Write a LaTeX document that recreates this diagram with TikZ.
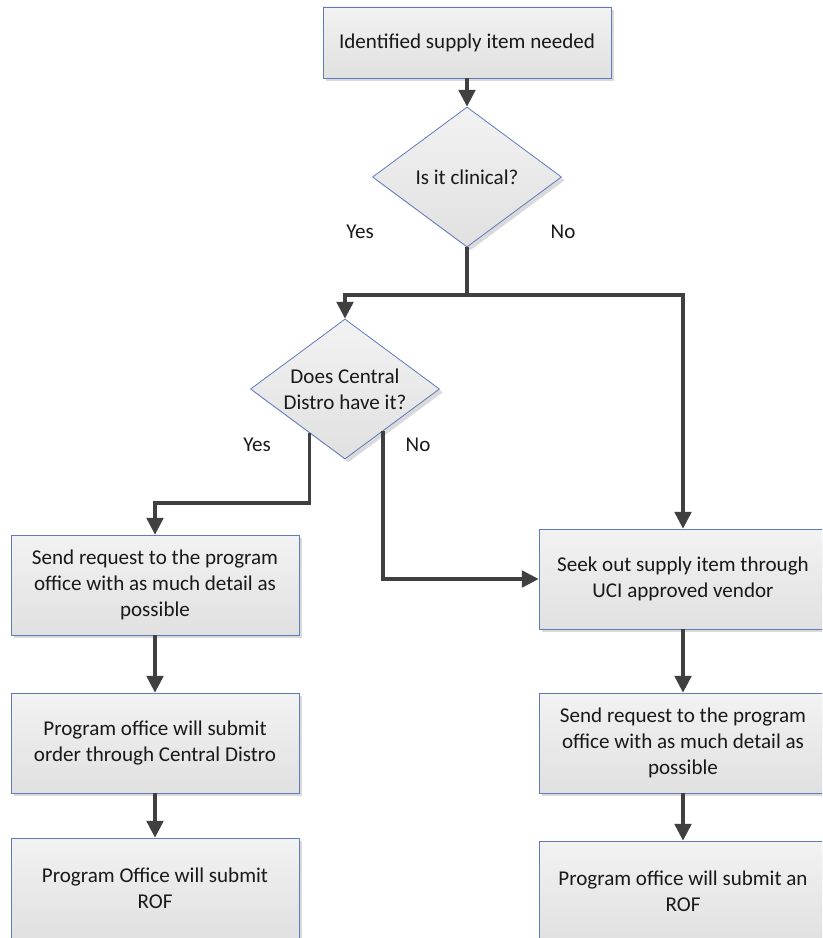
\documentclass[tikz,border=0pt]{standalone}
\usepackage{fontspec}
\setmainfont{Carlito}
\usetikzlibrary{shapes.geometric,arrows.meta,shadows}

\definecolor{edgeblue}{RGB}{96,122,190}
\definecolor{linegray}{RGB}{64,64,64}
\definecolor{shadegray}{RGB}{218,218,218}

\tikzset{
  shapebase/.style={draw=edgeblue, line width=0.6pt,
    top color=black!5, bottom color=black!12,
    drop shadow={shadow xshift=2.5pt, shadow yshift=-2.5pt, fill=shadegray, opacity=1},
    font=\fontsize{15.8}{19.3}\selectfont, text=black!90, align=center},
  procbox/.style={shapebase, rectangle, minimum width=288*0.75pt, minimum height=100*0.75pt,
    inner sep=0pt},
  topbox/.style={procbox, minimum height=71*0.75pt},
  decision/.style={shapebase, diamond, shape aspect=1.35, inner sep=0pt,
    minimum width=189*0.75pt, minimum height=140*0.75pt},
  flow/.style={draw=linegray, line width=2.3pt,
    -{Triangle[length=12.5pt, width=12.5pt]}},
  flowline/.style={draw=linegray, line width=2.3pt},
  answer/.style={font=\fontsize{15.8}{19.3}\selectfont, text=black!90}
}

\begin{document}
\begin{tikzpicture}[x=0.75pt, y=-0.75pt]
  \useasboundingbox (0,0) rectangle (822,938);
  \clip (0,0) rectangle (822,938);

  % process steps and decisions
  \node[topbox]   (need)    at (467,42.5) {Identified supply item needed};
  \node[decision] (clin)    at (467,177)  {Is it clinical?};
  \node[decision] (cdist)   at (345,389)  {Does Central\\Distro have it?};
  \node[procbox]  (reqL)    at (155,585)  {Send request to the program\\office with as much detail as\\possible};
  \node[procbox]  (orderL)  at (155,743)  {Program office will submit\\order through Central Distro};
  \node[procbox]  (rofL)    at (155,888)  {Program Office will submit\\ROF};
  \node[procbox]  (vendor)  at (683,579)  {Seek out supply item through\\UCI approved vendor};
  \node[procbox]  (reqR)    at (683,743)  {Send request to the program\\office with as much detail as\\possible};
  \node[procbox]  (rofR)    at (683,891)  {Program office will submit an\\ROF};

  % branch points
  \coordinate (split) at (467,295);
  \coordinate (yesbend) at (155,503);

  % connectors
  \draw[flow] (need) -- (clin);
  \draw[flowline] (clin.south) -- (split);
  \draw[flow] (split) -| (cdist.north);
  \draw[flow] (split) -| (vendor.north);
  \draw[flow] (cdist.231.5) |- (yesbend) -- (reqL.north);
  \draw[flow] (cdist.312) |- (vendor.west);
  \draw[flow] (reqL) -- (orderL);
  \draw[flow] (orderL) -- (rofL);
  \draw[flow] (vendor) -- (reqR);
  \draw[flow] (reqR) -- (rofR);

  % branch labels
  \node[answer] (yes1) at (360,232) {Yes};
  \node[answer] (no1)  at (563,232) {No};
  \node[answer] (yes2) at (257,445) {Yes};
  \node[answer] (no2)  at (418,445) {No};
\end{tikzpicture}
\end{document}
